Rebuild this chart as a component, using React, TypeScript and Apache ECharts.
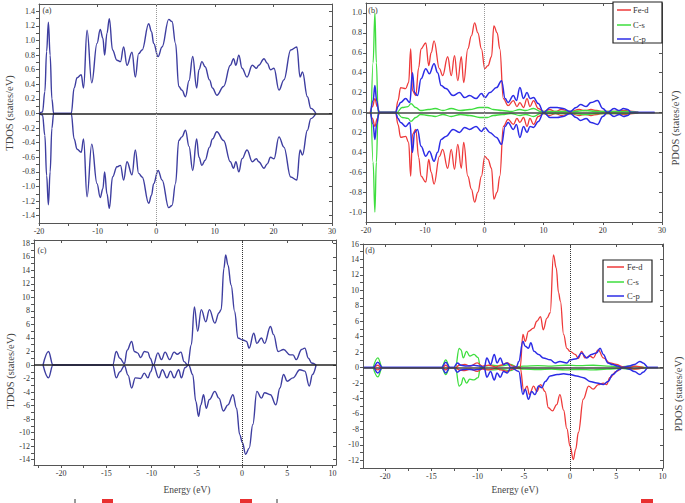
import React, { useEffect, useRef } from "react";
import * as echarts from "echarts";

type P = [number, number][];

// ---------- Panel (a): TDOS, spin-up (spin-down is its mirror image) ----------
const aUp: P = [
  [-20, 0], [-19.4, 0.02], [-19.0, 0.3], [-18.7, 0.85], [-18.4, 1.25], [-18.1, 0.8], [-17.8, 0.2], [-17.5, 0],
  [-14.5, 0], [-14.0, 0.35], [-13.5, 0.49], [-12.8, 0.53], [-12.4, 0.35], [-11.8, 1.14], [-11.0, 0.42],
  [-10.1, 0.96], [-9.55, 1.15], [-9.1, 1.03], [-8.8, 0.8], [-8.4, 1.1], [-8.0, 1.3], [-7.45, 0.87],
  [-6.7, 0.73], [-6.1, 0.71], [-5.56, 0.91], [-4.98, 0.66], [-4.13, 0.84], [-3.56, 0.5], [-3.0, 0.82],
  [-2.4, 0.87], [-1.28, 1.23], [-0.8, 1.12], [-0.43, 0.96], [0.32, 0.78], [1.0, 0.91], [2.14, 1.29],
  [2.7, 1.26], [3.3, 0.96], [3.85, 0.37], [4.4, 0.32], [5.0, 0.23], [5.6, 0.45], [6.23, 0.78], [6.9, 0.35],
  [7.3, 0.6], [7.8, 0.71], [8.35, 0.64], [9.1, 0.46], [9.6, 0.35], [10.35, 0.25], [11.5, 0.37], [12.65, 0.66],
  [13.2, 0.75], [13.6, 0.66], [14.1, 0.8], [14.65, 0.62], [15.5, 0.5], [16.4, 0.66], [17.1, 0.62], [17.5, 0.66],
  [18.4, 0.75], [18.95, 0.69], [19.5, 0.6], [20.1, 0.62], [20.95, 0.32], [21.8, 0.46], [22.95, 0.87],
  [24.0, 0.91], [24.55, 0.5], [24.96, 0.57], [25.8, 0.23], [26.4, 0.07], [27.25, 0],
];

// ---------- Panel (b): PDOS, spin-up (spin-down mirrors it) ----------
const bFeUp: P = [
  [-19.3, 0], [-18.9, 0.06], [-18.5, 0.14], [-18.1, 0.06], [-17.7, 0], [-15, 0], [-14.6, 0.12], [-14.15, 0.25],
  [-13.3, 0.24], [-12.8, 0.3], [-12.45, 0.64], [-12.15, 0.22], [-11.6, 0.17], [-11.1, 0.45], [-10.7, 0.64],
  [-9.9, 0.7], [-9.4, 0.47], [-9.0, 0.6], [-8.5, 0.72], [-7.6, 0.44], [-7.05, 0.37], [-6.2, 0.56], [-5.6, 0.37],
  [-5.05, 0.57], [-4.5, 0.32], [-3.9, 0.56], [-3.5, 0.3], [-2.8, 0.64], [-2.2, 0.77], [-1.65, 0.9], [-1.1, 0.8],
  [-0.5, 0.64], [0.06, 0.44], [0.6, 0.47], [1.2, 0.56], [1.6, 0.87], [2.16, 0.8], [2.6, 0.64], [3.2, 0.14],
  [4.0, 0.07], [4.9, 0.12], [5.5, 0.06], [6.0, 0.1], [6.6, 0.05], [7.2, 0.14], [7.7, 0.06], [8.3, 0.12],
  [9.1, 0.04], [10, 0.01], [11, 0.03], [12, 0.01], [13, 0.03], [14.5, 0.01], [16, 0.03], [17, 0.02], [18, 0.03],
  [19, 0.02], [20, 0.01], [22, 0.01], [23.5, 0.02], [25, 0.01], [26, 0],
];
const bCsUp: P = [
  [-19.1, 0], [-18.8, 0.5], [-18.5, 1.0], [-18.25, 0.5], [-17.95, 0], [-14.8, 0], [-13.9, 0.05], [-12.9, 0.06],
  [-12.4, 0.09], [-11.6, 0.05], [-10.8, 0.02], [-9.5, 0.03], [-8.3, 0.04], [-7, 0.02], [-5.6, 0.04], [-4, 0.02],
  [-2.5, 0.03], [-0.8, 0.05], [0.5, 0.05], [1.5, 0.03], [3, 0.02], [4.5, 0.01], [6, 0.03], [7, 0.02], [8.3, 0.04],
  [9.5, 0.01], [11, 0.01], [13, 0.01], [15, 0.01], [17, 0.02], [19, 0.01], [21, 0.01], [24, 0.01], [26, 0],
];
const bCpUp: P = [
  [-19.2, 0], [-18.8, 0.12], [-18.5, 0.27], [-18.2, 0.12], [-17.8, 0], [-15, 0], [-14.6, 0.06], [-14.15, 0.1],
  [-13.3, 0.14], [-12.6, 0.1], [-12.15, 0.4], [-11.8, 0.2], [-11.3, 0.17], [-10.7, 0.34], [-9.9, 0.44],
  [-9.3, 0.39], [-8.5, 0.49], [-7.9, 0.4], [-7.3, 0.27], [-6.5, 0.24], [-5.3, 0.17], [-4.2, 0.2], [-3.35, 0.15],
  [-2.5, 0.17], [-1.4, 0.14], [-0.5, 0.19], [0.1, 0.15], [0.9, 0.2], [2.05, 0.25], [2.9, 0.32], [3.5, 0.14],
  [4.0, 0.1], [4.9, 0.17], [5.4, 0.12], [6.0, 0.25], [6.6, 0.14], [7.2, 0.2], [7.7, 0.14], [8.3, 0.15],
  [9.1, 0.09], [10, 0], [11.1, 0.05], [12.3, 0.05], [13.3, 0.04], [14.5, 0.01], [15.5, 0.05], [16.25, 0.08],
  [17.2, 0.06], [18, 0.1], [19.1, 0.12], [20, 0.04], [20.8, 0], [21.9, 0.04], [22.8, 0.02], [23.5, 0.04],
  [24.2, 0.03], [24.8, 0], [28.75, 0],
];

// ---------- Panel (c): TDOS ----------
const cUp: P = [
  [-22.0, 0], [-21.4, 2.0], [-20.9, 0], [-14.3, 0], [-13.9, 2.0], [-13.5, 1.0], [-13.0, 0.2], [-12.7, 2.2],
  [-12.2, 3.5], [-11.9, 2.0], [-11.55, 1.8], [-11.2, 1.1], [-10.8, 2.0], [-10.4, 1.9], [-10.15, 1.0], [-9.8, 0],
  [-9.3, 1.8], [-8.9, 0.8], [-8.5, 1.9], [-8.0, 0.8], [-7.5, 1.9], [-7.15, 1.6], [-6.75, 1.9], [-6.4, 0.5],
  [-6.0, 0], [-5.6, 3.0], [-5.26, 8.6], [-4.9, 5.0], [-4.5, 8.2], [-4.0, 6.4], [-3.6, 8.2], [-3.0, 6.2],
  [-2.55, 7.7], [-2.3, 8.2], [-2.0, 14.3], [-1.8, 16.3], [-1.55, 14.8], [-1.2, 11.8], [-0.8, 7.9], [-0.45, 4.0],
  [0.1, 3.7], [0.5, 3.5], [0.8, 2.5], [1.3, 4.7], [1.65, 3.2], [2.15, 4.0], [2.5, 3.2], [3.15, 5.7], [3.5, 4.5],
  [4.0, 2.0], [4.6, 2.3], [5.3, 1.5], [5.65, 1.5], [6.0, 0.8], [6.6, 2.3], [6.95, 2.5], [7.35, 1.0], [7.7, 0.3],
  [8.2, 0],
];
const cDown: P = [
  [-22.0, 0], [-21.4, -1.9], [-20.9, 0], [-14.3, 0], [-13.9, -1.9], [-13.5, -1.0], [-13.0, -0.1], [-12.6, -1.5],
  [-12.2, -3.4], [-11.8, -1.9], [-11.2, -2.0], [-10.8, -1.2], [-10.4, -1.9], [-10.1, -1.0], [-9.8, 0],
  [-9.2, -1.9], [-8.8, -0.7], [-8.3, -1.9], [-7.9, -0.9], [-7.5, -1.9], [-7.0, -0.7], [-6.7, -1.9], [-6.3, -0.4],
  [-5.9, 0], [-5.45, -1.4], [-5.1, -5.4], [-4.8, -7.6], [-4.55, -5.9], [-4.25, -4.4], [-3.95, -6.4],
  [-3.6, -5.1], [-3.0, -3.9], [-2.55, -4.9], [-2.05, -6.8], [-1.55, -5.9], [-1.0, -4.4], [-0.6, -6.4],
  [-0.25, -10.3], [0.05, -11.5], [0.4, -13.2], [0.8, -12.3], [1.2, -8.8], [1.65, -3.9], [2.15, -4.9],
  [2.5, -4.1], [3.15, -4.4], [3.75, -5.9], [4.2, -3.4], [4.6, -1.4], [5.0, -2.4], [5.65, -1.9], [6.4, -0.7],
  [6.95, -0.9], [7.45, -3.1], [7.8, -1.4], [8.2, 0],
];

// ---------- Panel (d): PDOS ----------
const dFeUp: P = [
  [-21.2, 0], [-20.8, 0.3], [-20.4, 0], [-13.8, 0], [-13.45, 0.3], [-13.1, 0], [-12.4, 0], [-12.0, 0.3],
  [-11.4, 0.4], [-10.8, 0.2], [-10.05, 0.6], [-9.5, 0.2], [-8.8, 0.3], [-8.0, 0.1], [-7.5, 0.3], [-6.8, 0.6],
  [-6.2, 0.2], [-5.4, 0], [-5.1, 4.3], [-4.85, 3.4], [-4.5, 4.7], [-3.95, 5.1], [-3.6, 6.0], [-3.2, 6.6],
  [-2.9, 4.9], [-2.5, 6.4], [-2.15, 7.1], [-1.8, 14.6], [-1.5, 12.9], [-1.25, 9.7], [-1.05, 8.6], [-0.7, 4.3],
  [-0.35, 2.5], [0, 2.1], [0.55, 1.7], [0.9, 1.2], [1.25, 2.1], [1.6, 1.25], [2.15, 1.5], [2.5, 1.25],
  [3.05, 2.3], [3.6, 1.25], [4.3, 0.6], [5.0, 0.4], [5.7, 0.1], [6.4, 0], [7.0, 0.2], [7.6, 0.1], [8.0, 0],
];
const dFeDown: P = [
  [-21.2, 0], [-20.8, -0.3], [-20.4, 0], [-13.8, 0], [-13.45, -0.3], [-13.1, 0], [-12.4, 0], [-12.0, -0.3],
  [-11.4, -0.4], [-10.8, -0.2], [-10.05, -0.5], [-9.5, -0.2], [-8.8, -0.3], [-8.0, -0.1], [-7.5, -0.3],
  [-6.8, -0.5], [-6.2, -0.2], [-5.4, 0], [-5.0, -3.1], [-4.65, -2.4], [-4.4, -3.5], [-3.95, -2.4], [-3.6, -3.1],
  [-3.2, -2.2], [-2.7, -3.1], [-2.35, -5.2], [-1.9, -5.6], [-1.45, -4.8], [-1.1, -3.5], [-0.7, -5.5],
  [-0.35, -7.9], [0, -10.2], [0.35, -11.9], [0.6, -10.6], [0.9, -8.4], [1.43, -4.1], [2.0, -2.4],
  [2.5, -2.8], [3.05, -2.2], [3.6, -2.0], [3.95, -2.2], [4.3, -1.3], [5.0, -0.5], [5.7, 0], [7.0, -0.2], [8.0, 0],
];
const dCsUp: P = [
  [-21.3, 0], [-20.8, 1.25], [-20.3, 0], [-13.9, 0], [-13.45, 1.0], [-13.0, 0], [-12.4, 0], [-12.0, 2.5],
  [-11.8, 2.3], [-11.55, 1.25], [-11.2, 2.1], [-10.85, 1.5], [-10.4, 1.7], [-9.95, 1.3], [-9.7, 0], [-9.2, 0.2],
  [-8.4, 0.3], [-7.6, 0.2], [-6.45, 0.4], [-5.8, 0.1], [-5, 0.2], [-3.5, 0.25], [-2, 0.2], [-0.5, 0.3], [1, 0.25],
  [2.5, 0.3], [4, 0.2], [5.5, 0.1], [6.5, 0.2], [7.5, 0.1], [8.2, 0],
];
const dCsDown: P = [
  [-21.3, 0], [-20.8, -1.2], [-20.3, 0], [-13.9, 0], [-13.45, -0.9], [-13.0, 0], [-12.4, 0], [-12.0, -2.4],
  [-11.8, -2.2], [-11.55, -1.3], [-11.2, -2.0], [-10.85, -1.5], [-10.4, -1.6], [-9.95, -1.3], [-9.7, 0],
  [-9.2, -0.2], [-8.4, -0.3], [-7.6, -0.2], [-6.45, -0.4], [-5.8, -0.1], [-5, -0.2], [-3.5, -0.25], [-2, -0.2],
  [-0.5, -0.3], [1, -0.25], [2.5, -0.3], [4, -0.2], [5.5, -0.1], [6.5, -0.2], [7.5, -0.1], [8.2, 0],
];
const dCpUp: P = [
  [-22.3, 0], [-21.3, 0], [-20.8, 0.7], [-20.3, 0], [-13.9, 0], [-13.45, 0.7], [-13.0, 0], [-12.6, 0],
  [-12.2, 0.6], [-11.8, 0.3], [-11.2, 0.2], [-10.4, 0.3], [-9.7, 0.2], [-9.3, 0], [-9.0, 1.25], [-8.6, 0.4],
  [-8.2, 1.7], [-7.9, 0.6], [-7.55, 1.25], [-7.2, 0.4], [-6.8, 0.6], [-6.4, 0], [-5.8, 0.1], [-5.55, 0.8],
  [-5.1, 3.4], [-4.85, 2.75], [-4.5, 2.5], [-4.25, 3.2], [-3.9, 2.1], [-3.4, 1.7], [-2.9, 1.25], [-2.15, 1.0],
  [-1.6, 0.6], [-1.1, 0.8], [-0.35, 0.6], [0, 1.0], [0.7, 1.15], [1.25, 1.9], [1.8, 1.25], [2.3, 1.7],
  [2.85, 1.9], [3.25, 2.5], [3.6, 1.7], [4.1, 0.6], [4.6, 0.4], [5.15, 0.2], [5.7, 0], [6.4, 0.2], [6.95, 0.4],
  [7.55, 0.8], [7.9, 0.6], [8.45, 0], [9.5, 0],
];
const dCpDown: P = [
  [-22.3, 0], [-21.3, 0], [-20.8, -0.7], [-20.3, 0], [-13.9, 0], [-13.45, -0.7], [-13.0, 0], [-12.6, 0],
  [-12.2, -0.6], [-11.8, -0.3], [-11.2, -0.2], [-10.4, -0.3], [-9.7, -0.2], [-9.3, 0], [-9.0, -1.25],
  [-8.6, -0.5], [-8.2, -1.6], [-7.9, -0.7], [-7.55, -1.25], [-7.2, -0.5], [-6.8, -0.7], [-6.4, 0],
  [-5.55, -0.5], [-5.1, -3.5], [-4.85, -2.8], [-4.5, -4.1], [-4.15, -3.1], [-3.8, -3.5], [-3.4, -2.4],
  [-3.05, -2.6], [-2.7, -1.8], [-2.15, -1.1], [-1.4, -0.9], [-0.7, -0.8], [0, -0.9], [0.7, -1.1], [1.45, -1.3],
  [2.15, -1.8], [2.9, -2.0], [3.6, -2.2], [4.1, -1.8], [4.6, -0.9], [5.3, -0.26], [5.7, 0], [6.4, -0.2],
  [6.95, -0.5], [7.55, -0.9], [7.9, -0.6], [8.45, 0], [9.5, 0],
];

// Tick label values
const abXLabels = [-20, -10, 0, 10, 20, 30];
const cdXLabels = [-20, -15, -10, -5, 0, 5, 10];
const aYLabels = [-1.4, -1.2, -1.0, -0.8, -0.6, -0.4, -0.2, 0, 0.2, 0.4, 0.6, 0.8, 1.0, 1.2, 1.4];
const bYLabels = [-1.0, -0.8, -0.6, -0.4, -0.2, 0, 0.2, 0.4, 0.6, 0.8, 1.0];
const cYLabels = [-14, -12, -10, -8, -6, -4, -2, 0, 2, 4, 6, 8, 10, 12, 14, 16, 18];
const dYLabels = [-12, -10, -8, -6, -4, -2, 0, 2, 4, 6, 8, 10, 12, 14, 16];

const neg = (p: P): P => p.map(([e, v]) => [e, -v] as [number, number]);

const SERIF = "Liberation Serif";
const TDOS_COLOR = "#3e3ea0";
const FE = "#ee3a3a";
const CS = "#3ede3e";
const CP = "#2c2ce6";

function ticks(min: number, max: number, step: number): number[] {
  const out: number[] = [];
  const n = Math.round((max - min) / step);
  for (let i = 0; i <= n; i++) out.push(+(min + i * step).toFixed(4));
  return out;
}

export default function App() {
  const ref = useRef<HTMLDivElement>(null);
  useEffect(() => {
    if (!ref.current) return;
    const chart = echarts.init(ref.current, undefined, { renderer: "svg" });

    const grids = [
      { left: 39, top: 4, width: 293, height: 219 },
      { left: 366, top: 3, width: 296, height: 219 },
      { left: 34, top: 240, width: 302, height: 225 },
      { left: 363, top: 244, width: 300, height: 224 },
    ];

    const lbl = { fontFamily: SERIF, fontSize: 8, color: "#333" };
    const axLine = { show: true, lineStyle: { color: "#555", width: 1 } };

    const panels = [
      { xMin: -20, xMax: 30, xL: abXLabels, xT: ticks(-20, 30, 5), yMin: -1.5, yMax: 1.5, yL: aYLabels, yT: ticks(-1.4, 1.4, 0.1), fmt: (v: number) => v.toFixed(1) },
      { xMin: -20, xMax: 30, xL: abXLabels, xT: ticks(-20, 30, 5), yMin: -1.1, yMax: 1.1, yL: bYLabels, yT: ticks(-1.0, 1.0, 0.1), fmt: (v: number) => (v < 0 && v > -0.5 ? Math.abs(v).toFixed(1) : v.toFixed(1)) },
      { xMin: -23, xMax: 10.4, xL: cdXLabels, xT: ticks(-22.5, 10, 2.5), yMin: -14.8, yMax: 18.5, yL: cYLabels, yT: ticks(-14, 18, 1), fmt: (v: number) => String(Math.round(v)) },
      { xMin: -22.4, xMax: 10.05, xL: cdXLabels, xT: ticks(-22.5, 10, 2.5).filter((v) => v >= -22.4), yMin: -13, yMax: 16, yL: dYLabels, yT: ticks(-13, 16, 1), fmt: (v: number) => String(Math.round(v)) },
    ];

    const xAxis: any[] = [];
    const yAxis: any[] = [];
    panels.forEach((p, g) => {
      xAxis.push({
        type: "value", gridIndex: g, min: p.xMin, max: p.xMax, position: "bottom",
        axisLine: { ...axLine, onZero: false },
        axisTick: { show: true, customValues: p.xT, length: 3, lineStyle: { color: "#555" } },
        axisLabel: { ...lbl, customValues: p.xL, margin: 4, showMinLabel: true, showMaxLabel: true, formatter: (v: number) => String(Math.round(v)) },
        splitLine: { show: false },
      });
      xAxis.push({
        type: "value", gridIndex: g, min: p.xMin, max: p.xMax, position: "top",
        axisLine: { ...axLine, onZero: false },
        axisTick: { show: true, inside: true, customValues: p.xL, length: 3, lineStyle: { color: "#555" } },
        axisLabel: { show: false },
        splitLine: { show: false },
      });
      yAxis.push({
        type: "value", gridIndex: g, min: p.yMin, max: p.yMax, position: "left",
        axisLine: { ...axLine, onZero: false },
        axisTick: { show: true, customValues: p.yT, length: 3, lineStyle: { color: "#555" } },
        axisLabel: { ...lbl, customValues: p.yL, margin: 4, showMinLabel: true, showMaxLabel: true, formatter: p.fmt },
        splitLine: { show: false },
      });
      yAxis.push({
        type: "value", gridIndex: g, min: p.yMin, max: p.yMax, position: "right",
        axisLine: { ...axLine, onZero: false },
        axisTick: { show: true, inside: true, customValues: p.yL, length: 3, lineStyle: { color: "#555" } },
        axisLabel: { show: false },
        splitLine: { show: false },
      });
    });

    const line = (name: string, data: P, g: number, color: string, width = 1.4, extra: any = {}) => ({
      type: "line", name, data, xAxisIndex: 2 * g, yAxisIndex: 2 * g,
      showSymbol: false, symbol: "none", smooth: 0.4, smoothMonotone: "x",
      lineStyle: { color, width }, itemStyle: { color }, silent: true, ...extra,
    });

    const refLines = (vColor: string, hColor: string) => ({
      markLine: {
        silent: true, symbol: "none", label: { show: false }, animation: false,
        data: [
          { yAxis: 0, lineStyle: { color: hColor, type: "solid", width: 1.5 } },
          { xAxis: 0, lineStyle: { color: vColor, type: "dotted", width: 1 } },
        ],
      },
    });

    const series = [
      line("TDOS up", aUp, 0, TDOS_COLOR, 1.4, refLines("#999", "#222")),
      line("TDOS down", neg(aUp), 0, TDOS_COLOR),
      line("Fe-d", bFeUp, 1, FE, 1.3, refLines("#999", "#444")),
      line("Fe-d", neg(bFeUp), 1, FE, 1.3),
      line("C-s", bCsUp, 1, CS, 1.3),
      line("C-s", neg(bCsUp), 1, CS, 1.3),
      line("C-p", bCpUp, 1, CP, 1.5),
      line("C-p", neg(bCpUp), 1, CP, 1.5),
      line("TDOS up", cUp, 2, TDOS_COLOR, 1.4, refLines("#333", "#222")),
      line("TDOS down", cDown, 2, TDOS_COLOR),
      line("C-s", dCsUp, 3, CS, 1.3, refLines("#333", "#444")),
      line("C-s", dCsDown, 3, CS, 1.3),
      line("Fe-d", dFeUp, 3, FE, 1.3),
      line("Fe-d", dFeDown, 3, FE, 1.3),
      line("C-p", dCpUp, 3, CP, 1.5),
      line("C-p", dCpDown, 3, CP, 1.5),
    ];

    const txt = (text: string, x: number, y: number, size: number, rot = 0, color = "#444", align = "center") => ({
      type: "text", x, y, rotation: rot, z: 100,
      style: { text, fontFamily: SERIF, fontSize: size, fill: color, align, verticalAlign: "middle" },
    });

    const legend = (x: number, y: number, w: number, h: number, rows: number[], lx0: number, lx1: number, tx: number) => [
      { type: "rect", z: 90, shape: { x, y, width: w, height: h }, style: { fill: "#fff", stroke: "#222", lineWidth: 1.2 } },
      ...[["Fe-d", FE], ["C-s", CS], ["C-p", CP]].flatMap(([name, color], i) => [
        { type: "line", z: 95, shape: { x1: lx0, y1: rows[i], x2: lx1, y2: rows[i] }, style: { stroke: color, lineWidth: 1.5 } },
        txt(name, tx, rows[i], 8.5, 0, "#333", "left"),
      ]),
    ];

    const graphic: any[] = [
      txt("(a)", 47, 10, 8, 0, "#333"),
      txt("(b)", 373, 10, 8, 0, "#333"),
      txt("(c)", 42, 250, 8, 0, "#333"),
      txt("(d)", 370, 250, 8, 0, "#333"),
      txt("TDOS (states/eV)", 9, 113, 10.5, Math.PI / 2),
      txt("TDOS (states/eV)", 10, 371, 10.5, Math.PI / 2),
      txt("PDOS (states/eV)", 675, 128, 10.5, Math.PI / 2),
      txt("PDOS (states/eV)", 678, 394, 10.5, Math.PI / 2),
      txt("Energy (eV)", 187, 490, 9.5),
      txt("Energy (eV)", 515, 490, 9.5),
      ...legend(613, 2, 49, 41, [10, 25, 39], 617, 631, 633),
      ...legend(603, 260, 49, 42, [267, 282, 296], 607, 624, 627),
      { type: "rect", shape: { x: 102, y: 499, width: 11, height: 4 }, style: { fill: "#e83030" } },
      { type: "rect", shape: { x: 240, y: 499, width: 12, height: 4 }, style: { fill: "#e83030" } },
      { type: "rect", shape: { x: 641, y: 499, width: 12, height: 4 }, style: { fill: "#e83030" } },
      { type: "line", shape: { x1: 75, y1: 499, x2: 75, y2: 503 }, style: { stroke: "#333", lineWidth: 1 } },
      { type: "line", shape: { x1: 277, y1: 499, x2: 277, y2: 503 }, style: { stroke: "#333", lineWidth: 1 } },
    ];

    chart.setOption({
      animation: false,
      backgroundColor: "#fff",
      grid: grids.map((g) => ({ ...g, containLabel: false })),
      xAxis,
      yAxis,
      series,
      graphic,
    });
    return () => chart.dispose();
  }, []);

  return <div ref={ref} style={{ position: "absolute", left: 0, top: 0, width: 685, height: 503, background: "#fff" }} />;
}
